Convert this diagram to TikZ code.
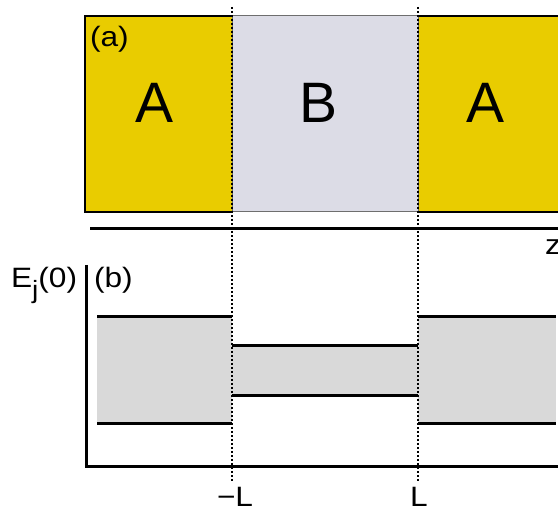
\documentclass[tikz,border=0pt]{standalone}
\usepackage{fontspec}
\setmainfont{Liberation Sans}
\definecolor{yellowA}{RGB}{233,204,0}
\definecolor{grayB}{RGB}{220,220,230}
\definecolor{bandgray}{RGB}{217,217,217}
\definecolor{edgegray}{RGB}{110,110,110}
\newcommand{\wide}[1]{\scalebox{1.13}[1]{#1}}
\begin{document}
\begin{tikzpicture}[x=1pt,y=-1pt,
  lbl/.style={inner sep=0pt, outer sep=0pt, anchor=base west},
  big/.style={font=\fontsize{57}{60}\selectfont, inner sep=0pt, outer sep=0pt, anchor=base},
  mid/.style={font=\fontsize{28}{30}\selectfont},
  thick3/.style={line width=3pt},
  boxedge/.style={line width=1.6pt},
  vdots/.style={line width=2pt, dash pattern=on 2pt off 2pt}]
\useasboundingbox (0,0) rectangle (558,510);
% panel (a)
\fill[yellowA] (85,16) rectangle (232,212);
\fill[grayB] (232,16) rectangle (418,212);
\fill[yellowA] (418,16) rectangle (560,212);
\draw[boxedge] (232,16) -- (85,16) -- (85,212) -- (232,212);
\draw[edgegray, line width=1pt] (232,16) -- (418,16) (232,212) -- (418,212);
\draw[boxedge] (418,16) -- (560,16) (418,212) -- (560,212);
\draw[line width=1pt, edgegray] (232,16) -- (232,212) (418,16) -- (418,212);
\draw[thick3] (90,229) -- (560,229);
\node[big] (A1) at (155,123) {A};
\node[big] (B) at (319,123) {B};
\node[big] (A2) at (486,123) {A};
\node[lbl, mid] (la) at (90,47) {\wide{(a)}};
\node[lbl, mid] (z) at (545,255) {\wide{z}};
% panel (b)
\fill[bandgray] (97,317) rectangle (232,424);
\fill[bandgray] (232,346) rectangle (418,396);
\fill[bandgray] (418,317) rectangle (556,424);
\draw[thick3] (97,317) -- (232,317) (97,424) -- (232,424);
\draw[thick3] (232,346) -- (418,346) (232,396) -- (418,396);
\draw[thick3] (418,317) -- (556,317) (418,424) -- (556,424);
\draw[thick3] (86,265) -- (86,467) -- (560,467);
\node[lbl, mid] (lb) at (94,288) {\wide{(b)}};
\node[lbl, mid] (E) at (11,288) {\wide{E\raisebox{-11pt}{\fontsize{25}{25}\selectfont j}(0)}};
\node[lbl, mid] (mL) at (217,507) {\wide{\char"2212L}};
\node[lbl, mid] (L) at (410,507) {\wide{L}};
% dotted boundaries
\draw[vdots] (232,7) -- (232,482);
\draw[vdots] (418,7) -- (418,482);
\end{tikzpicture}
\end{document}
